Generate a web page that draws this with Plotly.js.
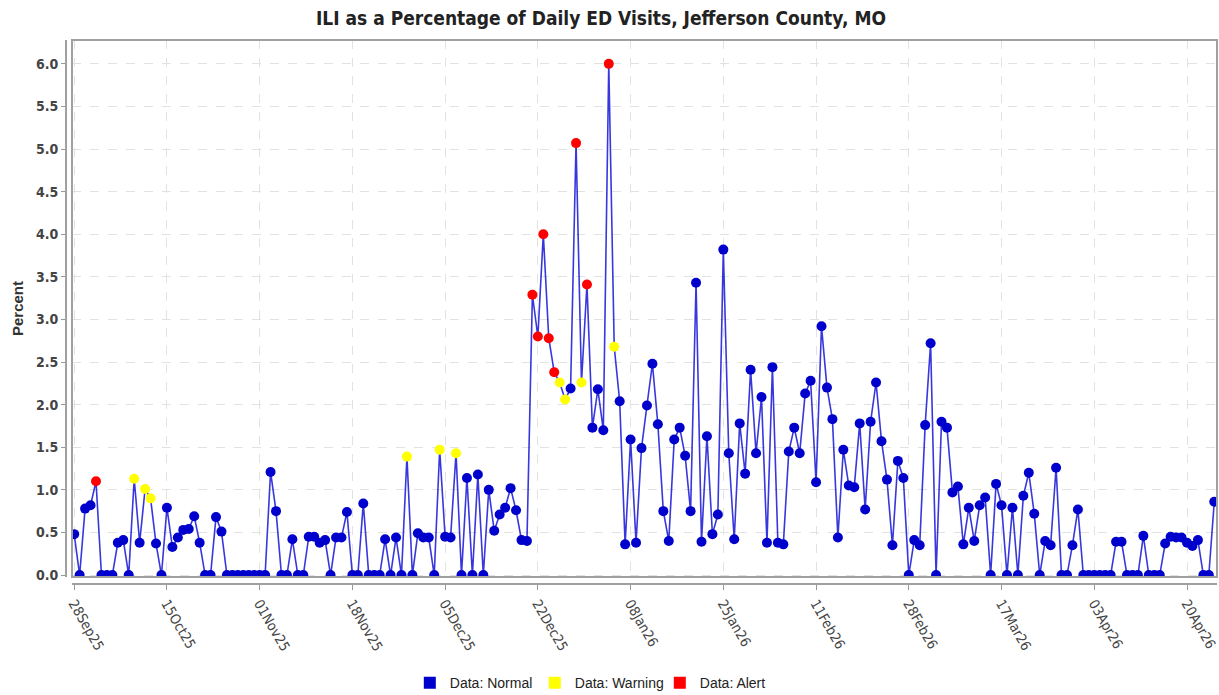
<!DOCTYPE html>
<html>
<head>
<meta charset="utf-8">
<script src="https://cdn.plot.ly/plotly-3.0.1.min.js"></script>
<style>html,body{margin:0;padding:0;background:#fff;}#chart{width:1219px;height:695px;}</style>
</head>
<body>
<div id="chart"></div>
<script>
// First day of the daily series
const startDate = '2025-09-28';

// ILI percent per day (28 Sep 2025 .. 25 Apr 2026)
const values = [
  0.48, 0, 0.78, 0.82, 1.10, 0, 0, 0, 0.38, 0.41,
  0, 1.13, 0.38, 1.01, 0.90, 0.37, 0, 0.79, 0.33, 0.44,
  0.53, 0.54, 0.69, 0.38, 0, 0, 0.68, 0.51, 0, 0,
  0, 0, 0, 0, 0, 0, 1.21, 0.75, 0, 0,
  0.42, 0, 0, 0.45, 0.45, 0.38, 0.41, 0, 0.44, 0.44,
  0.74, 0, 0, 0.84, 0, 0, 0, 0.42, 0, 0.44,
  0, 1.39, 0, 0.49, 0.44, 0.44, 0, 1.47, 0.45, 0.44,
  1.43, 0, 1.14, 0, 1.18, 0, 1.00, 0.52, 0.71, 0.79,
  1.02, 0.76, 0.41, 0.40, 3.29, 2.80, 4.00, 2.78, 2.38, 2.26,
  2.06, 2.19, 5.07, 2.26, 3.41, 1.73, 2.18, 1.70, 6.00, 2.68,
  2.04, 0.36, 1.59, 0.38, 1.49, 1.99, 2.48, 1.77, 0.75, 0.40,
  1.59, 1.73, 1.40, 0.75, 3.43, 0.39, 1.63, 0.48, 0.71, 3.82,
  1.43, 0.42, 1.78, 1.19, 2.41, 1.43, 2.09, 0.38, 2.44, 0.38,
  0.36, 1.45, 1.73, 1.43, 2.13, 2.28, 1.09, 2.92, 2.20, 1.83,
  0.44, 1.47, 1.05, 1.03, 1.78, 0.77, 1.80, 2.26, 1.57, 1.12,
  0.35, 1.34, 1.14, 0, 0.41, 0.35, 1.76, 2.72, 0, 1.80,
  1.73, 0.97, 1.04, 0.36, 0.79, 0.40, 0.82, 0.91, 0, 1.07,
  0.82, 0, 0.79, 0, 0.93, 1.20, 0.72, 0, 0.40, 0.35,
  1.26, 0, 0, 0.35, 0.77, 0, 0, 0, 0, 0,
  0, 0.39, 0.39, 0, 0, 0, 0.46, 0, 0, 0,
  0.37, 0.45, 0.44, 0.44, 0.38, 0.34, 0.41, 0, 0, 0.86
];

// Status per day: N = Normal, W = Warning, A = Alert
const status = (
  'NNNNANNNNN' + 'NWNWWNNNNN' + 'NNNNNNNNNN' + 'NNNNNNNNNN' +
  'NNNNNNNNNN' + 'NNNNNNNNNN' + 'NWNNNNNWNN' + 'WNNNNNNNNN' +
  'NNNNAAAAAW' + 'WNAWANNNAW' + 'NNNNNNNNNN' + 'NNNNNNNNNN' +
  'NNNNNNNNNN' + 'NNNNNNNNNN' + 'NNNNNNNNNN' + 'NNNNNNNNNN' +
  'NNNNNNNNNN' + 'NNNNNNNNNN' + 'NNNNNNNNNN' + 'NNNNNNNNNN' +
  'NNNNNNNNNN'
).split('');

// Tick labels on the date axis (every 17 days)
const tickDates = ['2025-09-28','2025-10-15','2025-11-01','2025-11-18','2025-12-05','2025-12-22',
  '2026-01-08','2026-01-25','2026-02-11','2026-02-28','2026-03-17','2026-04-03','2026-04-20'];
const tickLabels = ['28Sep25','15Oct25','01Nov25','18Nov25','05Dec25','22Dec25',
  '08Jan26','25Jan26','11Feb26','28Feb26','17Mar26','03Apr26','20Apr26'];

const seriesNames = ['Data: Normal', 'Data: Warning', 'Data: Alert'];
const seriesCodes = ['N', 'W', 'A'];
const seriesColors = ['#0000cc', '#ffff00', '#ff0000'];

const DAY = 86400000;
const t0 = Date.parse(startDate + 'T00:00:00Z');
function iso(ms){ return new Date(ms).toISOString().slice(0,19).replace('T',' '); }
const dates = values.map((v,i) => iso(t0 + i*DAY));

const traces = [];
traces.push({
  type:'scatter', mode:'lines', x:dates, y:values, showlegend:false, hoverinfo:'skip',
  line:{color:'rgba(20,20,215,0.85)', width:1.6}
});
seriesCodes.forEach((c,k) => {
  traces.push({
    type:'scatter', mode:'markers', showlegend:false, name:seriesNames[k],
    x:dates, y:values.map((v,i) => status[i]===c ? v : null),
    marker:{color:seriesColors[k], size:10, line:{width:0}}
  });
});
seriesCodes.forEach((c,k) => {
  traces.push({
    type:'scatter', mode:'markers', name:seriesNames[k], x:[null], y:[null],
    marker:{color:seriesColors[k], symbol:'square', size:12, line:{width:0}}
  });
});

const W = 1219, H = 695;
const mL = 66, mR = 2, mT = 40, mB = 111;
const plotW = W - mL - mR, plotH = H - mT - mB;
const dx = 6 / plotW, dy = 7 / plotH;

const tickFont = {family:'"Liberation Sans Narrow", "DejaVu Sans Condensed", "Liberation Sans", Arial, sans-serif', size:14, color:'#444'};

const layout = {
  width:W, height:H,
  margin:{l:mL, r:mR, t:mT, b:mB},
  paper_bgcolor:'#fff', plot_bgcolor:'#fff',
  title:{text:'ILI as a Percentage of Daily ED Visits, Jefferson County, MO',
    x:0.493, xanchor:'center', y:0.974, yanchor:'middle', xref:'container', yref:'container',
    font:{family:'"Liberation Sans Narrow", "DejaVu Sans Condensed", "Liberation Sans", Arial, sans-serif', size:19, weight:'bold', color:'#222'}},
  xaxis:{
    type:'date', domain:[dx,1], anchor:'free', position:0,
    range:[iso(t0 - 0.40*DAY), iso(t0 + 209.5*DAY)],
    tickvals:tickDates, ticktext:tickLabels, tickangle:60, ticklabeloverflow:'allow',
    tickfont:tickFont, ticks:'outside', ticklen:5, tickcolor:'#999', tickwidth:1,
    showline:true, linecolor:'#a0a0a0', linewidth:2,
    showgrid:true, gridcolor:'#e2e2e2', griddash:'dash', gridwidth:1,
    zeroline:false, fixedrange:true
  },
  yaxis:{
    domain:[dy,1], anchor:'free', position:0,
    range:[-0.023, 6.28], tickvals:[0,0.5,1,1.5,2,2.5,3,3.5,4,4.5,5,5.5,6],
    tickformat:'.1f',
    tickfont:Object.assign({}, tickFont, {weight:'bold', size:14}),
    ticks:'outside', ticklen:4, tickcolor:'#999',
    showline:true, linecolor:'#a0a0a0', linewidth:2,
    showgrid:true, gridcolor:'#e2e2e2', griddash:'dash', gridwidth:1,
    zeroline:false,
    title:{text:'Percent', standoff:8, font:{family:'"Liberation Sans", Arial, sans-serif', size:15, weight:'bold', color:'#333'}}
  },
  shapes:[{type:'rect', xref:'paper', yref:'paper', x0:dx, x1:1, y0:dy, y1:1,
    line:{color:'#a0a0a0', width:2}, layer:'above'}],
  legend:{orientation:'h', xref:'container', yref:'container', x:0.49, xanchor:'center',
    y:0.017, yanchor:'middle', itemwidth:30, tracegroupgap:0,
    entrywidth:80, entrywidthmode:'pixels',
    font:{family:'"Liberation Sans Narrow", "Liberation Sans", Arial, sans-serif', size:14, color:'#222'}},
  showlegend:true,
  hovermode:false
};

Plotly.newPlot('chart', traces, layout, {displayModeBar:false, staticPlot:true});
</script>
</body>
</html>
